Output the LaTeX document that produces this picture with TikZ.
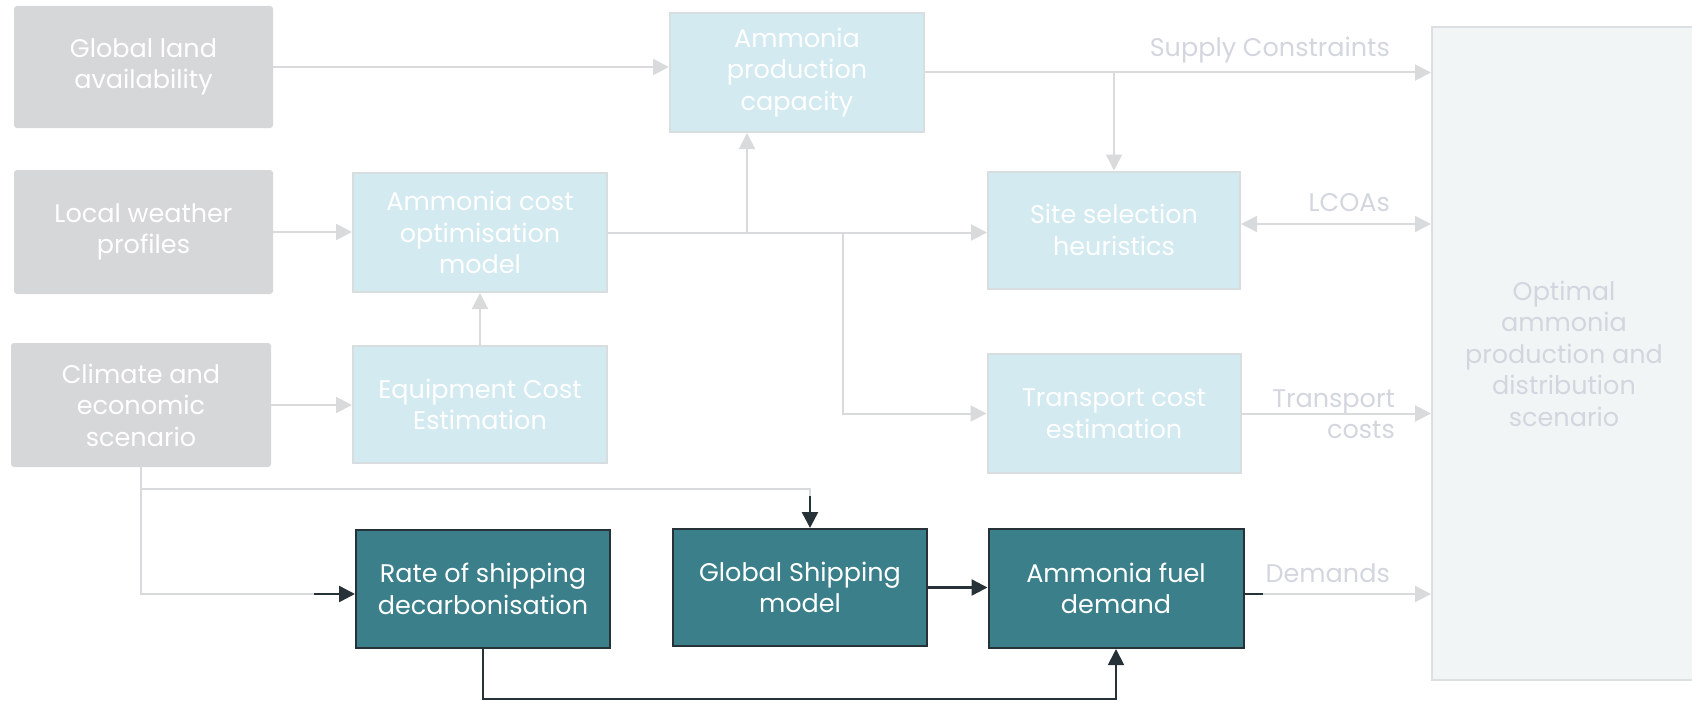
\documentclass[tikz,border=0pt]{standalone}
\usepackage{fontspec}
\setmainfont{Poppins}
\usetikzlibrary{arrows.meta}
\definecolor{boxgrey}{HTML}{D6D7D9}
\definecolor{lblue}{HTML}{D3EAF1}
\definecolor{lblueborder}{HTML}{D8DDE0}
\definecolor{tealbox}{HTML}{3A7F8A}
\definecolor{darkline}{HTML}{263238}
\definecolor{greyline}{HTML}{D8DADC}
\definecolor{lbltext}{HTML}{D3D6DE}
\definecolor{optfill}{HTML}{F1F5F6}
\definecolor{optborder}{HTML}{DCE0E2}
\tikzset{
  basebox/.style={align=center, inner sep=0pt, text=white, font=\fontsize{25.5}{31.5}\selectfont},
  gbox/.style={basebox, fill=boxgrey, rounded corners=3pt},
  bbox/.style={basebox, fill=lblue, draw=lblueborder, line width=2pt},
  tbox/.style={basebox, fill=tealbox, draw=darkline, line width=2pt},
  optbox/.style={basebox, fill=optfill, draw=optborder, line width=2pt, text=lbltext},
  lbl/.style={inner sep=0pt, text=lbltext, font=\fontsize{25.5}{31.5}\selectfont},
  gline/.style={draw=greyline, line width=2pt, -{Triangle[length=16pt,width=16pt]}},
  dline/.style={draw=darkline, line width=2.5pt, -{Triangle[length=16pt,width=16pt]}},
}
\begin{document}
\begin{tikzpicture}[x=1pt,y=-1pt]
\useasboundingbox (0,0) rectangle (1692,701);
% nodes
\node[gbox, minimum width=259pt, minimum height=122pt] (gl) at (143.5,67) {Global land\\availability};
\node[gbox, minimum width=259pt, minimum height=124pt] (lw) at (143.5,232) {Local weather\\profiles};
\node[gbox, minimum width=260pt, minimum height=124pt] (ce) at (141,405) {Climate and\\economic\\scenario};
\node[bbox, minimum width=254pt, minimum height=119pt] (aco) at (480,232.5) {Ammonia cost\\optimisation\\model};
\node[bbox, minimum width=254pt, minimum height=117pt] (ece) at (480,404.5) {Equipment Cost\\Estimation};
\node[bbox, minimum width=254pt, minimum height=119pt] (apc) at (797,72.5) {Ammonia\\production\\capacity};
\node[bbox, minimum width=252pt, minimum height=117pt] (ssh) at (1114,230) {Site selection\\heuristics};
\node[bbox, minimum width=253pt, minimum height=119pt] (tce) at (1114,413.5) {Transport cost\\estimation};
\node[tbox, minimum width=254pt, minimum height=118pt] (rsd) at (483,589) {Rate of shipping\\decarbonisation};
\node[tbox, minimum width=254pt, minimum height=117pt] (gsm) at (800,587.5) {Global Shipping\\model};
\node[tbox, minimum width=255pt, minimum height=119pt] (afd) at (1116,588.5) {Ammonia fuel\\demand};
\node[optbox, minimum width=264pt, minimum height=653pt] (opt) at (1564,353.5) {Optimal\\ammonia\\production and\\distribution\\scenario};
% labels
\node[lbl, anchor=east] (l1) at (1390,50) {Supply Constraints};
\node[lbl, anchor=east] (l2) at (1390,203) {LCOAs};
\node[lbl, anchor=east, align=right] (l3) at (1395,414) {Transport\\costs};
\node[lbl, anchor=east] (l4) at (1390,573) {Demands};
% helper coordinates
\coordinate (bx1) at (747,0);
\coordinate (bx2) at (843,0);
\coordinate (bx3) at (810,0);
\coordinate (sx) at (314,0);
\coordinate (dx) at (1263,0);
\coordinate (cy1) at (0,489);
\coordinate (cy3) at (0,496);
\coordinate (cy2) at (0,594);
\coordinate (ly) at (0,224);
\coordinate (by) at (0,699);
% grey connectors
\draw[gline] (gl.east) -- (gl.east -| apc.west);
\draw[gline] (apc.east) -- (apc.east -| opt.west);
\draw[gline, line width=1.5pt] (apc.east -| ssh.north) -- (ssh.north);
\draw[gline] (lw.east) -- (lw.east -| aco.west);
\draw[gline] (ece.north) -- (aco.south);
\draw[gline] (ce.east) -- (ce.east -| ece.west);
\draw[gline] (aco.east) -- (aco.east -| ssh.west);
\draw[gline] (aco.east -| bx1) -- (bx1 |- apc.south);
\draw[gline] (aco.east -| bx2) -- (bx2 |- tce.west) -- (tce.west);
\draw[gline, {Triangle[length=16pt,width=16pt]}-{Triangle[length=16pt,width=16pt]}] (ssh.east |- ly) -- (opt.west |- ly);
\draw[gline] (tce.east) -- (tce.east -| opt.west);
\draw[gline, -] (ce.south) -- (ce.south |- cy2) -- (sx |- cy2);
\draw[gline, -] (ce.south |- cy1) -- (bx3 |- cy1) -- (bx3 |- cy3);
\draw[gline] (dx |- cy2) -- (opt.west |- cy2);
% dark connectors
\draw[dline] (sx |- cy2) -- (rsd.west |- cy2);
\draw[dline] (bx3 |- cy3) -- (bx3 |- gsm.north);
\draw[dline] (gsm.east) -- (gsm.east -| afd.west);
\draw[dline, line width=1.8pt] (rsd.south) -- (rsd.south |- by) -- (afd.south |- by) -- (afd.south);
\draw[dline, -] (afd.east |- cy2) -- (dx |- cy2);
\end{tikzpicture}
\end{document}
